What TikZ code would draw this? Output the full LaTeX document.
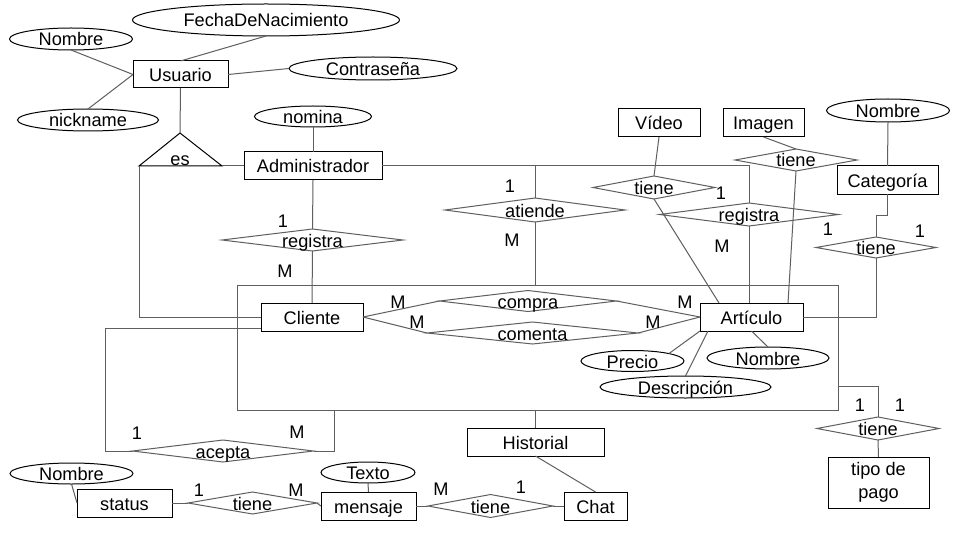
\documentclass[tikz,border=0pt]{standalone}
\usepackage{fontspec}
\setmainfont{Liberation Sans}
\usetikzlibrary{shapes.geometric,calc}
\definecolor{lnc}{RGB}{95,95,95}
\newcommand\myfs{\fontsize{18.2}{23}\selectfont}
\begin{document}
\begin{tikzpicture}[x=1pt,y=-1pt,
  every node/.style={inner sep=0pt, outer sep=0pt, font=\myfs},
  tx/.style={text height=14pt, text depth=0pt},
  every label/.style={tx},
  ent/.style={draw=black, line width=1pt, rectangle, tx},
  attr/.style={draw=black, line width=1pt, ellipse},
  rel/.style={draw=lnc, line width=1pt, diamond},
  ln/.style={draw=lnc, line width=1pt},
  card/.style={tx}]
\fill[white] (0,0) rectangle (960,540);
\useasboundingbox (0,0) rectangle (960,540);

% aggregation box
\node[draw=lnc, line width=1pt, minimum width=601, minimum height=125] (agg) at (537.5,347.5) {};

% entities
\node[ent, minimum width=95, minimum height=27] (usu) at (180.5,74.5) {Usuario};
\node[ent, minimum width=138, minimum height=28] (adm) at (313,166) {Administrador};
\node[ent, minimum width=102, minimum height=28] (cli) at (312,317) {Cliente};
\node[ent, minimum width=103, minimum height=28] (art) at (751.5,317) {Artículo};
\node[ent, minimum width=82, minimum height=28] (vid) at (659,123) {Vídeo};
\node[ent, minimum width=81, minimum height=28] (img) at (763.5,123) {Imagen};
\node[ent, minimum width=101, minimum height=28] (cat) at (887.5,180) {Categoría};
\node[draw=black, line width=1pt, minimum width=101, minimum height=51, align=center] (pago) at (878.5,482.5) {tipo de\\pago};
\node[ent, minimum width=137, minimum height=28] (hist) at (535.5,442) {Historial};
\node[ent, minimum width=95, minimum height=28] (status) at (124.5,503) {status};
\node[ent, minimum width=95, minimum height=28] (mens) at (368.5,506) {mensaje};
\node[ent, minimum width=63, minimum height=28] (chat) at (595.5,506) {Chat};

% attributes
\node[attr, minimum width=267, minimum height=32, label=center:FechaDeNacimiento] (fecha) at (266,20) {};
\node[attr, minimum width=123, minimum height=22, label=center:Nombre] (nom1) at (71,39) {};
\node[attr, minimum width=141, minimum height=22, label=center:nickname] (nick) at (88,120) {};
\node[attr, minimum width=168, minimum height=23, label=center:Contraseña] (contra) at (373,68.5) {};
\node[attr, minimum width=117, minimum height=21, label=center:nomina] (nomina) at (313,116.5) {};
\node[attr, minimum width=123, minimum height=23, label=center:Nombre] (nom2) at (888,110.5) {};
\node[attr, minimum width=103, minimum height=21, label=center:Precio] (precio) at (632.5,361) {};
\node[attr, minimum width=122, minimum height=22, label=center:Nombre] (nom3) at (768,358) {};
\node[attr, minimum width=171, minimum height=22, label=center:Descripción] (desc) at (685.5,387) {};
\node[attr, minimum width=123, minimum height=21, label=center:Nombre] (nom4) at (71.5,473.5) {};
\node[attr, minimum width=94, minimum height=21, label=center:Texto] (texto) at (368,472.5) {};

% relationships
\node[rel, minimum width=181, minimum height=22, label=center:registra] (reg1) at (312.5,240) {};
\node[rel, minimum width=180, minimum height=24, label=center:atiende] (atiende) at (535,210) {};
\node[rel, minimum width=122, minimum height=23, label=center:tiene] (tvid) at (654,187.5) {};
\node[rel, minimum width=179, minimum height=23, label=center:registra] (reg2) at (749,214.5) {};
\node[rel, minimum width=122, minimum height=22, label=center:tiene] (timg) at (796,160) {};
\node[rel, minimum width=120, minimum height=21, label=center:tiene] (tcat) at (876,247.5) {};
\node[rel, minimum width=177, minimum height=21, label=center:compra] (compra) at (528,301) {};
\node[rel, minimum width=211, minimum height=22, label=center:comenta] (comenta) at (532.5,333) {};
\node[rel, minimum width=181, minimum height=22, label=center:acepta] (acepta) at (223,451) {};
\node[rel, minimum width=122, minimum height=23, label=center:tiene] (tpago) at (878,428.5) {};
\node[rel, minimum width=129, minimum height=22, label=center:tiene] (tstat) at (252.5,503) {};
\node[rel, minimum width=125, minimum height=23, label=center:tiene] (tmens) at (490.5,506) {};

% specialization triangle
\coordinate (esA) at (180,133);
\coordinate (esL) at (139,166);
\coordinate (esR) at (222,166);
\draw[black, line width=1pt] (esA) -- (esL) -- (esR) -- cycle;
\node[tx] (es) at (180,158) {es};

% connectors
\draw[ln] (nom1.south) -- (usu.west);
\draw[ln] (nick.north) -- (usu.west);
\draw[ln] (fecha.south) -- (usu.north);
\draw[ln] (usu.east) -- (contra.west);
\draw[ln] (usu.south) -- (esA);
\draw[ln] (esR) -- (adm.west);
\draw[ln] (esL) |- (cli.west);
\draw[ln] (nomina.south) -- (adm.north);
\draw[ln] (adm.south) -- (reg1.north);
\draw[ln] (reg1.south) -- (cli.north);
\draw[ln] (adm.east) -| (reg2.north);
\draw[ln] (atiende.north) -- (atiende.north |- adm.east);
\draw[ln] (atiende.south) -- (atiende.south |- agg.north);
\draw[ln] (vid.south) -- (tvid.north);
\draw[ln] (tvid.south) -- ([xshift=19pt]art.north west);
\draw[ln] (img.south) -- (timg.north);
\draw[ln] (timg.south) -- ([xshift=-15pt]art.north east);
\draw[ln] (reg2.south) -- (reg2.south |- art.north);
\draw[ln] (nom2.south) -- (cat.north);
\draw[ln] (cat.south) -- ++(0,21) -| (tcat.north);
\draw[ln] (tcat.south) |- (art.east);
\draw[ln] (cli.east) -- (compra.west);
\draw[ln] (compra.east) -- (art.west);
\draw[ln] (cli.east) -- (comenta.west);
\draw[ln] (comenta.east) -- (art.west);
\draw[ln] (precio.north east) -- (art.south west);
\draw[ln] (nom3.north) -- (art.south);
\draw[ln] (desc.north) -- ([xshift=8pt]art.south west);
\draw[ln] ([yshift=-38.5pt]agg.east) -| (tpago.north);
\draw[ln] (tpago.south) -- (pago.north);
\draw[ln] (hist.north) -- (hist.north |- agg.south);
\draw[ln] (hist.south) -- (chat.north);
\draw[ln] ([yshift=-11pt]cli.west) -- ++(-156,0) |- (acepta.west);
\draw[ln] (acepta.east) -| ([xshift=97pt]agg.south west);
\draw[ln] (nom4.south) -- (status.west);
\draw[ln] (status.east) -- (tstat.west);
\draw[ln] (tstat.east) -- (mens.west);
\draw[ln] (texto.south) -- (mens.north);
\draw[ln] (mens.east) -- (tmens.west);
\draw[ln] (tmens.east) -- (chat.west);

% cardinalities
\node[card] (k1) at (283,220) {1};
\node[card] (k2) at (285,270) {M};
\node[card] (k3) at (510,185) {1};
\node[card] (k4) at (512,239) {M};
\node[card] (k5) at (721,193) {1};
\node[card] (k6) at (722,245) {M};
\node[card] (k7) at (828,228) {1};
\node[card] (k8) at (920,230) {1};
\node[card] (k9) at (398,301) {M};
\node[card] (k10) at (417,321) {M};
\node[card] (k11) at (685,301) {M};
\node[card] (k12) at (653,321) {M};
\node[card] (k13) at (860,404) {1};
\node[card] (k14) at (900,404) {1};
\node[card] (k15) at (137,432) {1};
\node[card] (k16) at (297,431) {M};
\node[card] (k17) at (199,489) {1};
\node[card] (k18) at (296,489) {M};
\node[card] (k19) at (441,488) {M};
\node[card] (k20) at (521,486) {1};
\end{tikzpicture}
\end{document}
